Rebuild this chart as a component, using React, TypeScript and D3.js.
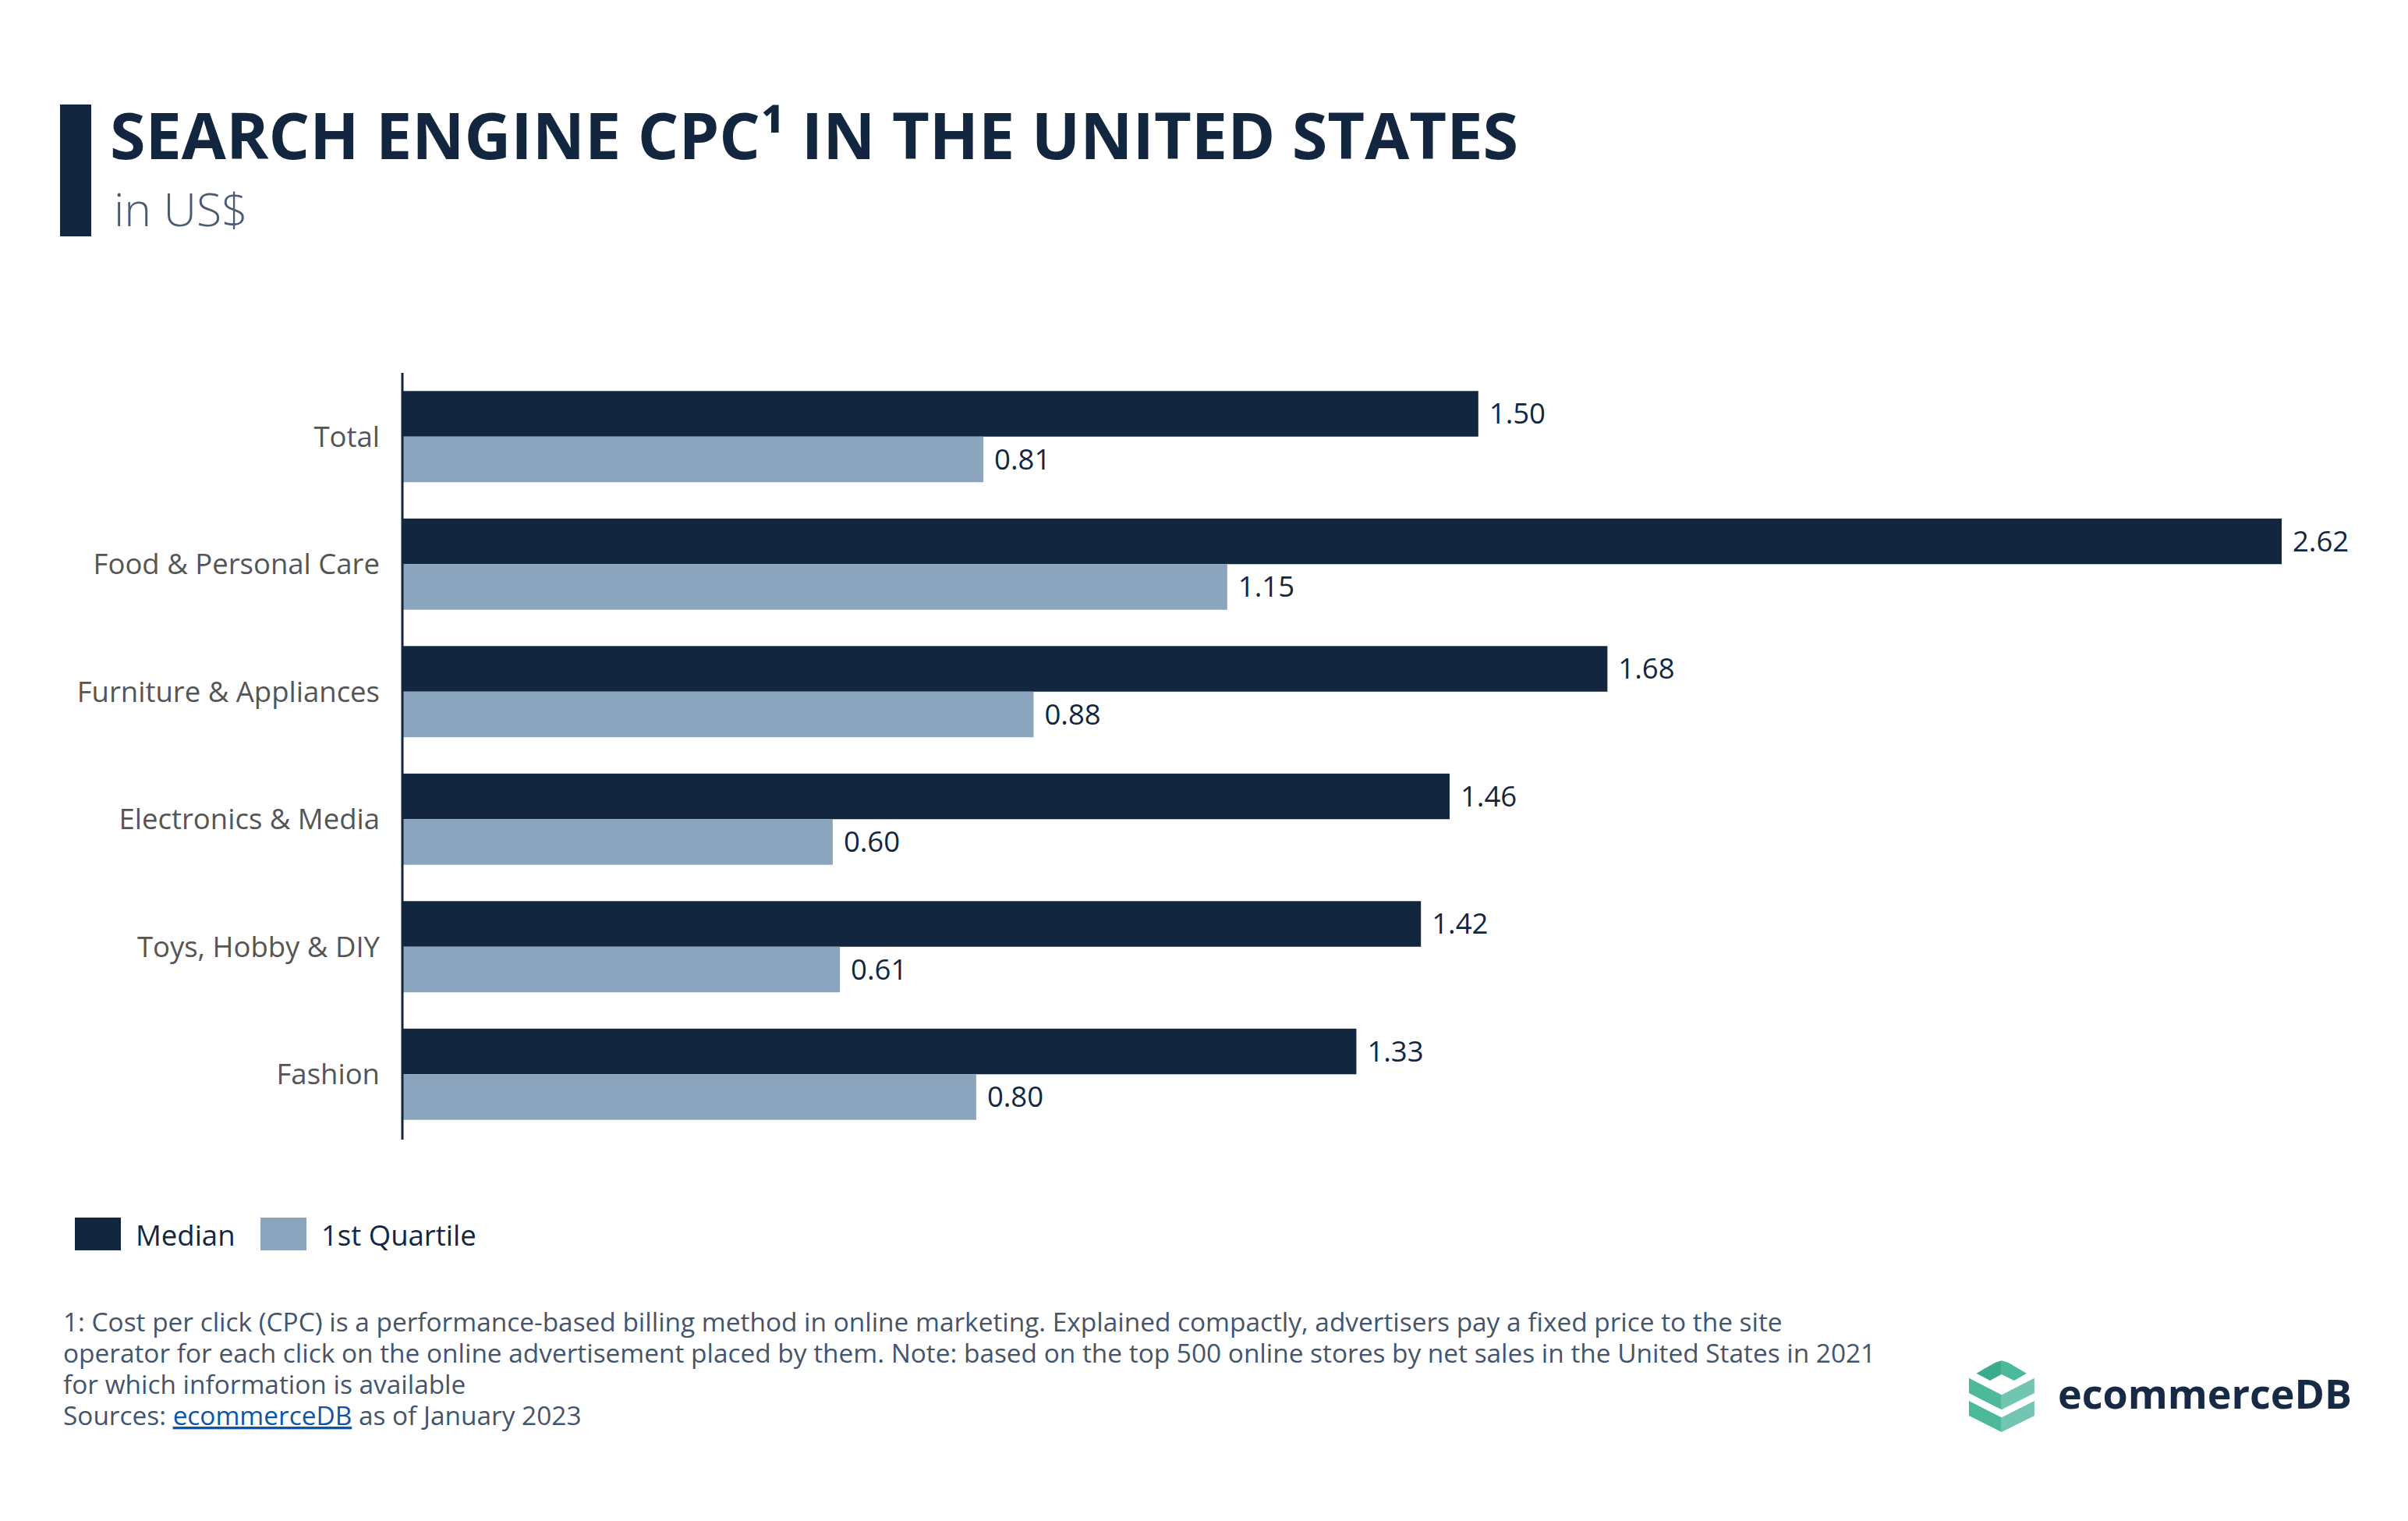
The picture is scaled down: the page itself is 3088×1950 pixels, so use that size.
import React from "react";
import * as d3 from "d3";

const categories = ["Total", "Food & Personal Care", "Furniture & Appliances", "Electronics & Media", "Toys, Hobby & DIY", "Fashion"];
const medianValues = [1.5, 2.62, 1.68, 1.46, 1.42, 1.33];
const quartileValues = [0.81, 1.15, 0.88, 0.6, 0.61, 0.8];
const seriesNames = ["Median", "1st Quartile"];

const DARK = "#12273f";
const LIGHT = "#8ba5bf";
const FONT = "'Open Sans', 'Noto Sans', sans-serif";

const footerLines = [
  "1: Cost per click (CPC) is a performance-based billing method in online marketing. Explained compactly, advertisers pay a fixed price to the site",
  "operator for each click on the online advertisement placed by them. Note: based on the top 500 online stores by net sales in the United States in 2021",
  "for which information is available",
];

export default function App() {
  const W = 3088, H = 1950;
  const x0 = 516;
  const x = d3.scaleLinear().domain([0, d3.max(medianValues) as number]).range([x0, 2926]);
  const y = d3.scaleBand<string>().domain(categories).range([478, 1459]).paddingInner(0.285).paddingOuter(0.1425);
  const half = y.bandwidth() / 2;

  const series = [
    { name: seriesNames[0], values: medianValues, color: DARK, off: 0 },
    { name: seriesNames[1], values: quartileValues, color: LIGHT, off: half },
  ];

  const p = (pts: number[][]) => "M" + pts.map((q) => q.join(",")).join("L") + "Z";

  return (
    <svg width={W} height={H} style={{ display: "block", position: "absolute", left: 0, top: 0, background: "#fff" }} fontFamily={FONT}>
      <rect x={0} y={0} width={W} height={H} fill="#fff" />
      <rect x={77} y={134} width={40} height={169} fill={DARK} />
      <text x={141} y={204} fontSize={82.7} fontWeight={700} fill={DARK}>SEARCH ENGINE CPC¹ IN THE UNITED STATES</text>
      <text x={146} y={290} fontSize={59} fontWeight={300} fill="#4a5b73">in US$</text>

      {categories.map((c) => (
        <text key={c} x={487} y={(y(c) as number) + half} dy="0.35em" textAnchor="end" fontSize={36.5} fill="#555">{c}</text>
      ))}

      {series.map((s) =>
        categories.map((c, i) => {
          const yy = (y(c) as number) + s.off;
          return (
            <g key={s.name + c}>
              <rect x={x0} y={yy} width={x(s.values[i]) - x0} height={half} fill={s.color} />
              <text x={x(s.values[i]) + 14} y={yy + half / 2} dy="0.35em" fontSize={36.5} fill={DARK}>{s.values[i].toFixed(2)}</text>
            </g>
          );
        })
      )}
      <line x1={x0} x2={x0} y1={478} y2={1461} stroke={DARK} strokeWidth={3} />

      {series.map((s, i) => (
        <g key={"lg" + s.name}>
          <rect x={96 + i * 238} y={1561} width={59} height={42} fill={s.color} />
          <text x={174 + i * 238} y={1597} fontSize={36.5} fill={DARK}>{s.name}</text>
        </g>
      ))}

      {footerLines.map((l, i) => (
        <text key={i} x={81} y={1707 + i * 40} fontSize={33.4} fill="#44546a">{l}</text>
      ))}
      <text x={81} y={1827} fontSize={33.4} fill="#44546a">
        Sources: <tspan fill="#0b55a8" textDecoration="underline">ecommerceDB</tspan> as of January 2023
      </text>

      <g>
        <path d={p([[2534.6, 1760.7], [2558.9, 1746.7], [2566.8, 1744.3], [2566.8, 1762], [2551.8, 1770]])} fill="#3aaa8c" />
        <path d={p([[2566.8, 1744.3], [2575, 1746.7], [2598.9, 1760.7], [2582.9, 1770], [2566.8, 1762]])} fill="#4bb99a" />
        <path d={p([[2525, 1766.7], [2566.8, 1788.3], [2566.8, 1807.3], [2525, 1786]])} fill="#4bb99a" />
        <path d={p([[2566.8, 1788.3], [2608.9, 1766.7], [2608.9, 1786], [2566.8, 1807.3]])} fill="#72c5b0" />
        <path d={p([[2525, 1796], [2566.8, 1817.3], [2566.8, 1836], [2525, 1815]])} fill="#4bb99a" />
        <path d={p([[2566.8, 1817.3], [2608.9, 1796], [2608.9, 1815], [2566.8, 1836]])} fill="#72c5b0" />
      </g>
      <text x={2639} y={1806} fontSize={52} fontWeight={700} fill="#172a45">ecommerceDB</text>
    </svg>
  );
}
